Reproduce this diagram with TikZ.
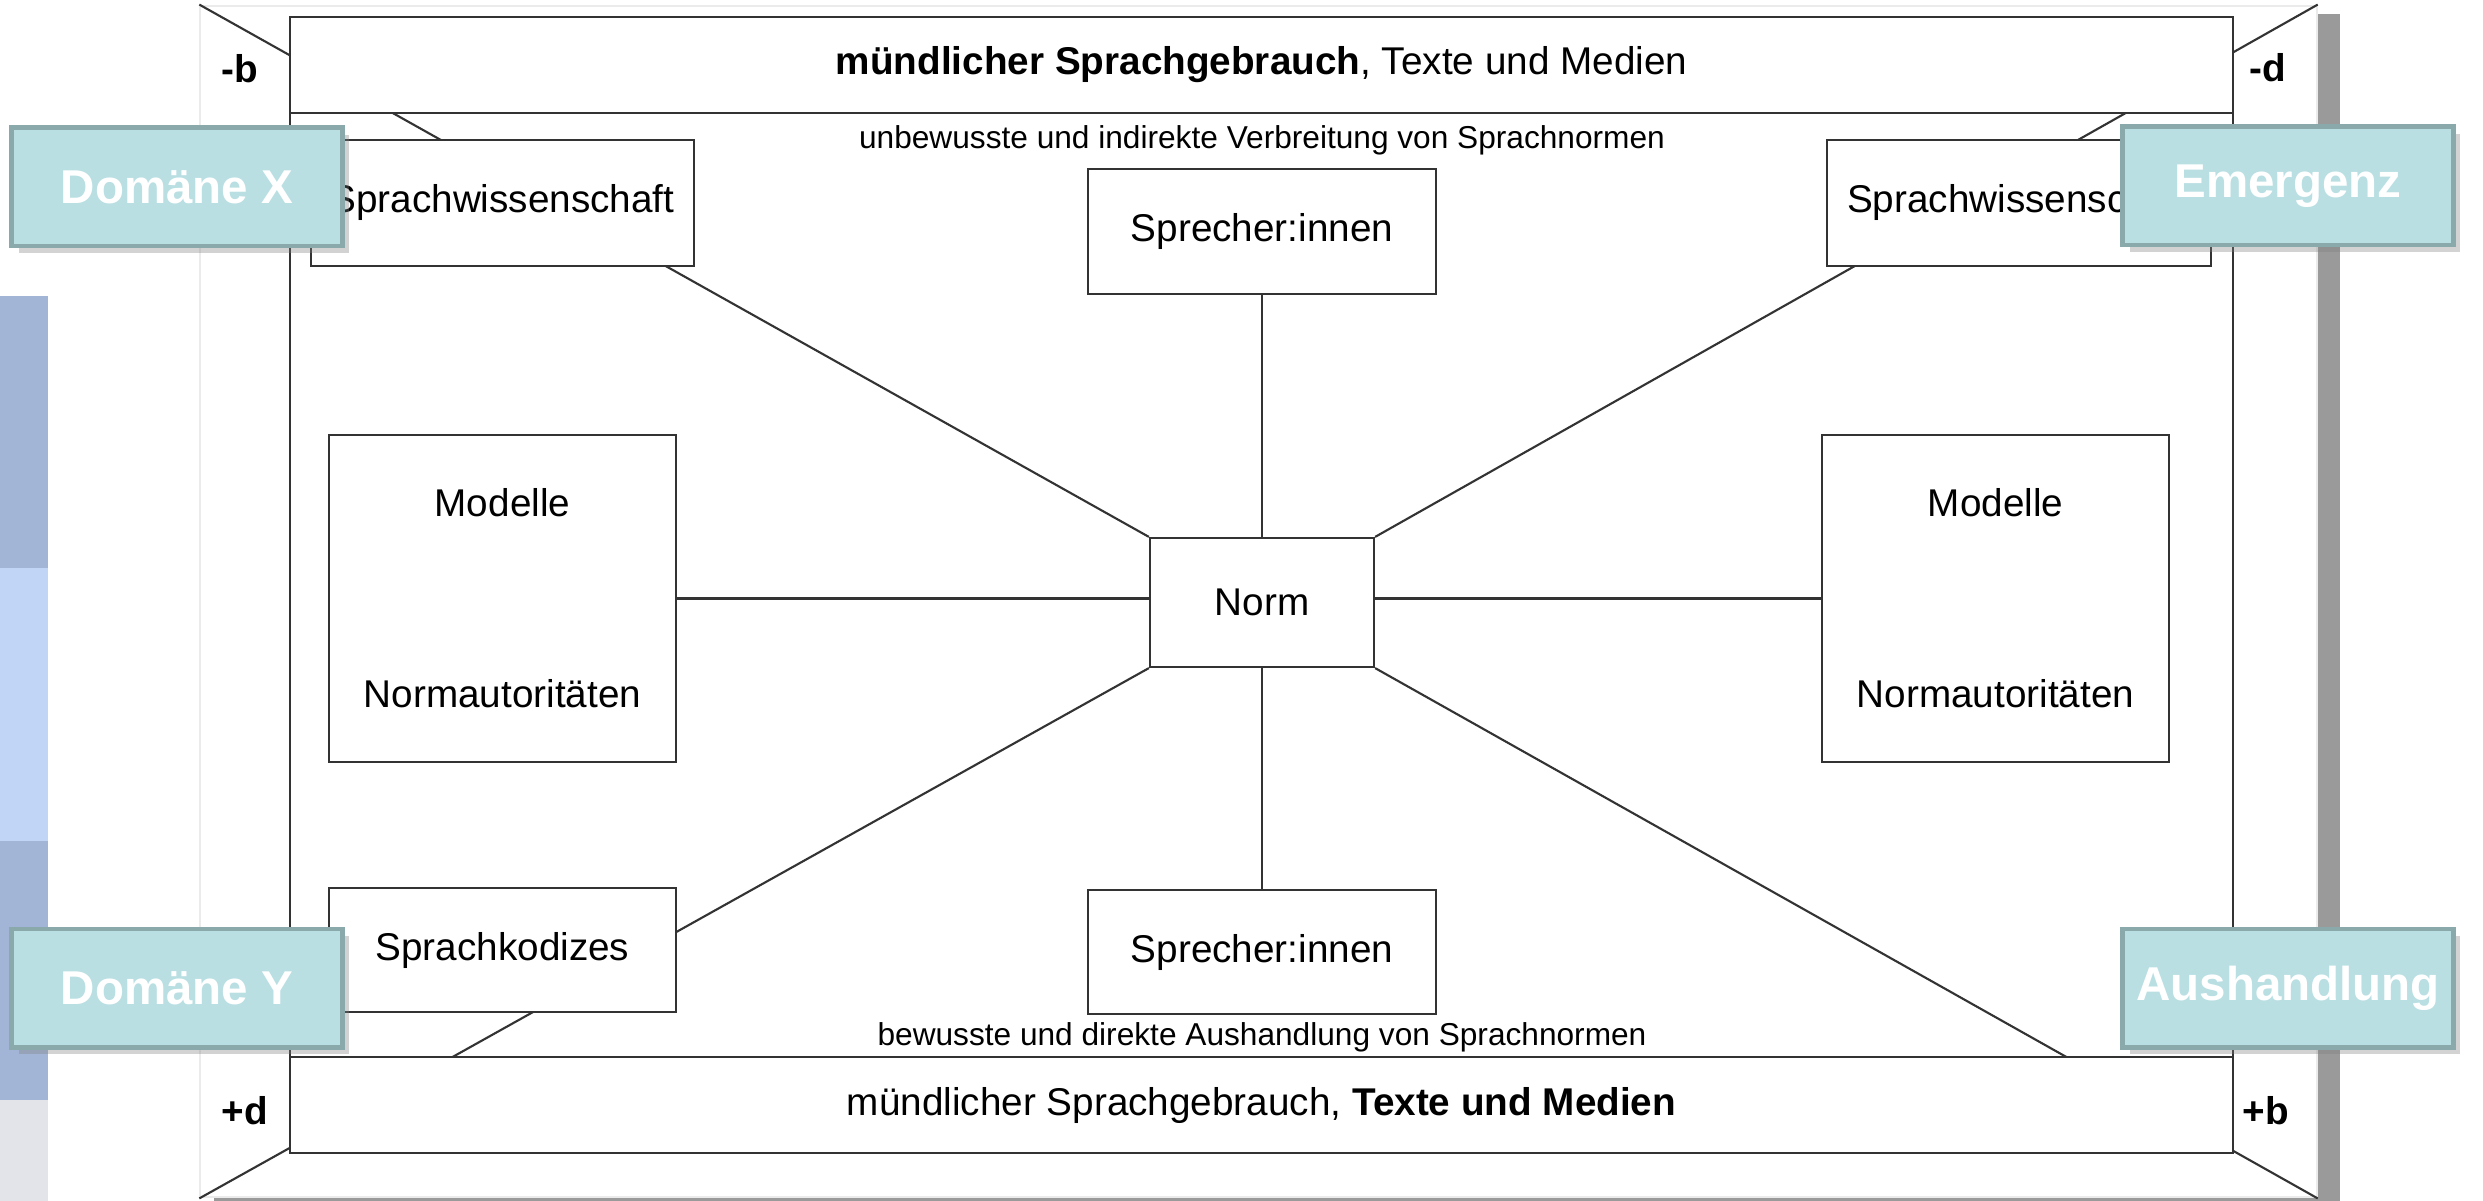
\documentclass[tikz,border=0pt]{standalone}
\usepackage{fontspec}
\setmainfont{Liberation Sans}
\usepackage{xcolor}
\usetikzlibrary{positioning, shadows}

\definecolor{tagfill}{HTML}{B9DFE3}
\definecolor{tagline}{HTML}{8AA9AA}
\definecolor{stripdark}{HTML}{A3B5D6}
\definecolor{striplight}{HTML}{C1D5F6}
\definecolor{stripgray}{HTML}{E3E4EA}
\definecolor{panelshadow}{HTML}{9A9A9A}

\begin{document}
\begin{tikzpicture}[
    x=0.01cm, y=-0.01cm,
    line width=0.6pt,
    box/.style={rectangle, draw=black!80, fill=white, minimum width=3.47cm, minimum height=1.25cm, align=center, font=\fontsize{11}{13}\selectfont},
    band/.style={rectangle, draw=black!80, fill=white, minimum width=19.41cm, minimum height=0.96cm, font=\fontsize{11}{13}\selectfont},
    note/.style={font=\fontsize{9}{11}\selectfont},
    corner/.style={font=\fontsize{11}{13}\selectfont\bfseries},
    tag/.style={rectangle, draw=tagline, line width=1.4pt, fill=tagfill, text=white, minimum width=3.30cm, minimum height=1.18cm, font=\fontsize{13.5}{16}\selectfont\bfseries, drop shadow={shadow xshift=0.07cm, shadow yshift=-0.07cm, opacity=0.35}},
    spoke/.style={draw=black!80},
]
\useasboundingbox (0,0) rectangle (2483,1201);

% side strip
\fill[stripdark] (0,296) rectangle (48,568);
\fill[striplight] (0,568) rectangle (48,841);
\fill[stripdark] (0,841) rectangle (48,1100);
\fill[stripgray] (0,1100) rectangle (48,1201);

% panel with shadow
\fill[panelshadow] (214,14) rectangle (2340,1201);
\node[draw=black!8, fill=white, minimum width=21.15cm, minimum height=11.91cm] (panel) at (1258.5,601.5) {};

\node[box, minimum width=2.24cm, minimum height=1.29cm] (norm) at (1262,602.5) {Norm};

% diagonals (behind the boxes)
\draw[spoke] (panel.north west) -- (norm.north west);
\draw[spoke] (panel.north east) -- (norm.north east);
\draw[spoke] (panel.south west) -- (norm.south west);
\draw[spoke] (panel.south east) -- (norm.south east);

\node[draw=black!80, minimum width=19.41cm, minimum height=11.36cm] (frame) at (1261.5,585) {};
\node[band, anchor=north] (topband) at (frame.north) {\textbf{mündlicher Sprachgebrauch}, Texte und Medien};
\node[band, anchor=south] (botband) at (frame.south) {mündlicher Sprachgebrauch, \textbf{Texte und Medien}};

\node[box, above=2.42cm of norm] (spkTop) {Sprecher:innen};
\node[box, below=2.21cm of norm, minimum height=1.24cm] (spkBot) {Sprecher:innen};
\node[box, minimum width=3.83cm, minimum height=1.26cm] (swL) at (502.5,203) {Sprachwissenschaft};
\node[box, minimum width=3.84cm, minimum height=1.26cm] (swR) at (2019,203) {Sprachwissenschaft};
\node[box, minimum height=3.27cm] (modL) at (502.5,598.5) {Modelle\\[1.45cm]Normautoritäten};
\node[box, minimum height=3.27cm] (modR) at (1995.5,598.5) {Modelle\\[1.45cm]Normautoritäten};
\node[box, minimum height=1.24cm] (kodex) at (502.5,950) {Sprachkodizes};

\draw[spoke] (norm.north) -- (spkTop.south);
\draw[spoke] (norm.south) -- (spkBot.north);
\draw[spoke] (modL.east) -- (norm.west |- modL.east);
\draw[spoke] (norm.east |- modR.west) -- (modR.west);

\node[note] (topnote) at (1262,140) {unbewusste und indirekte Verbreitung von Sprachnormen};
\node[note] (botnote) at (1262,1037) {bewusste und direkte Aushandlung von Sprachnormen};

\node[corner] (mb) at (240,69) {-b};
\node[corner] (md) at (2268,68) {-d};
\node[corner] (pd) at (245,1111) {+d};
\node[corner] (pb) at (2266,1111) {+b};

% overlay tags
\node[tag] (domX) at (177,187) {Domäne X};
\node[tag] (emerg) at (2288,186) {Emergenz};
\node[tag] (domY) at (177,988) {Domäne Y};
\node[tag] (aush) at (2288,988) {Aushandlung};

\end{tikzpicture}
\end{document}
